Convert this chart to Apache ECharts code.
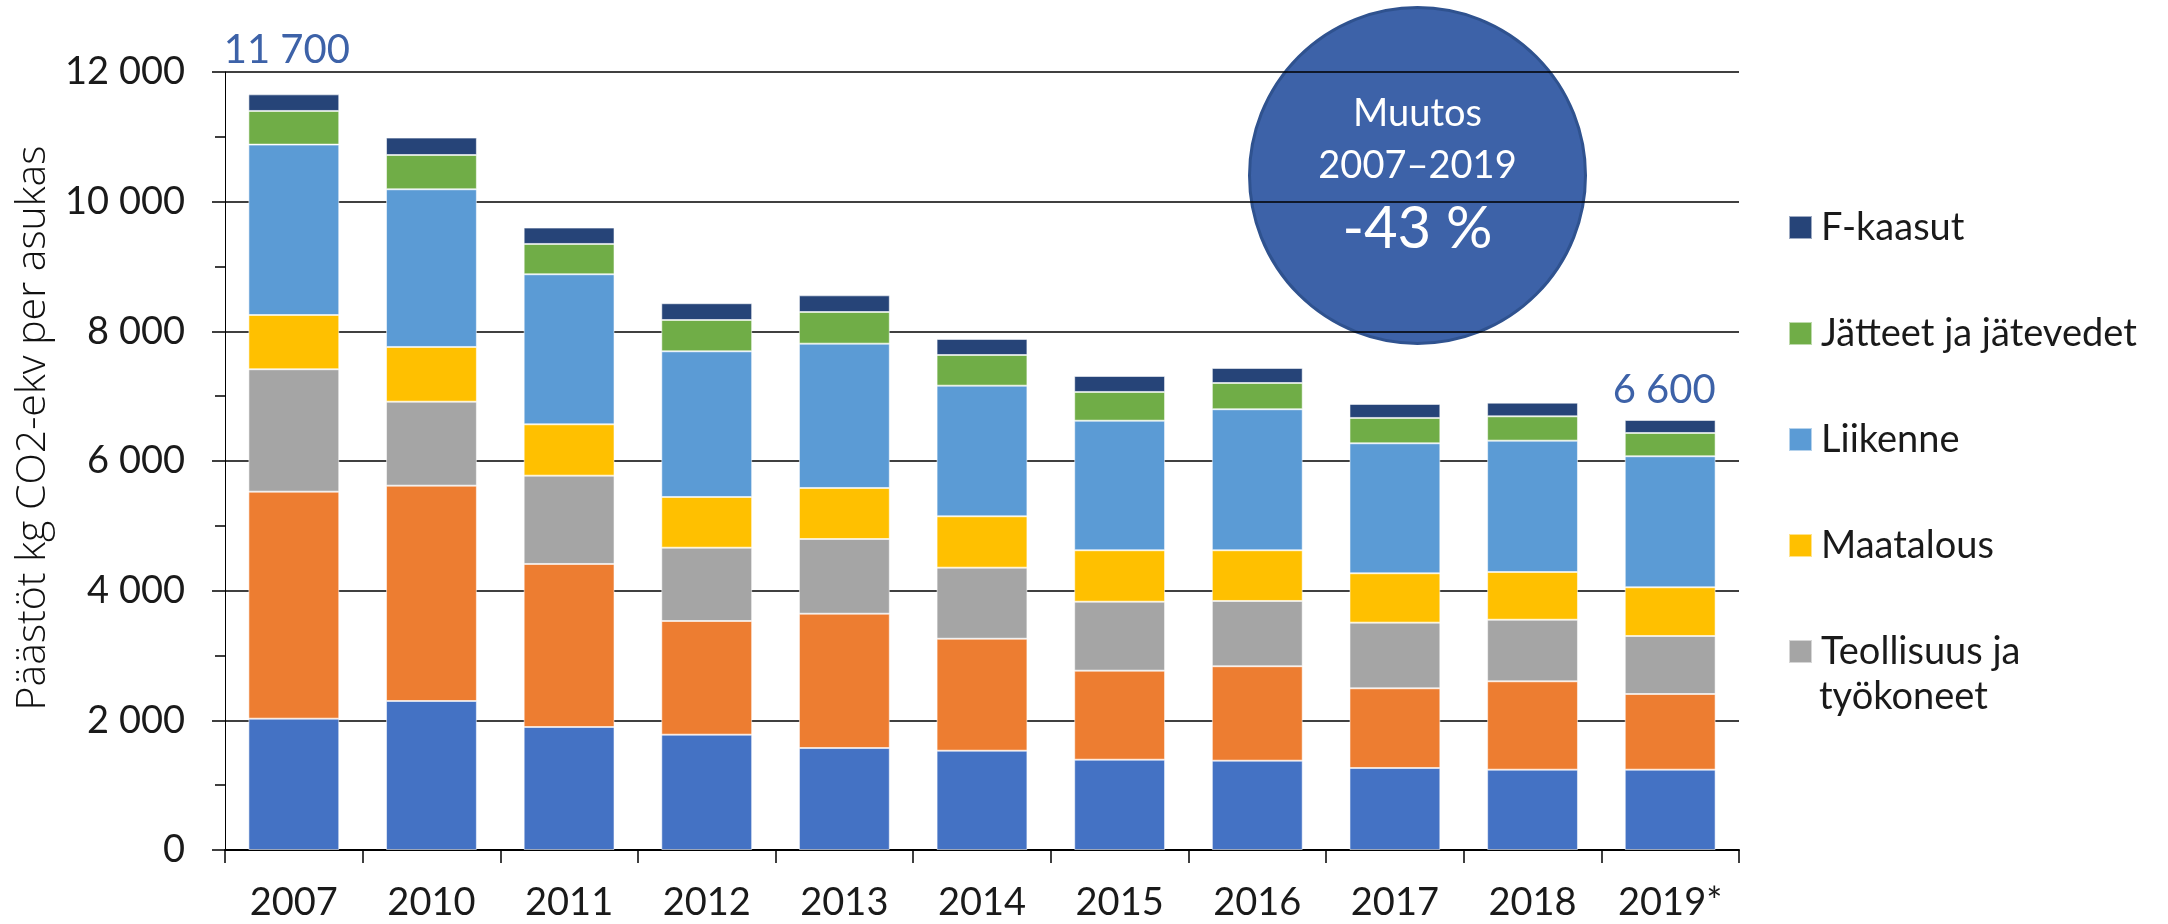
<!DOCTYPE html>
<html>
<head>
<meta charset="utf-8">
<script src="https://cdn.jsdelivr.net/npm/echarts@6/dist/echarts.min.js"></script>
<style>
  html, body { margin: 0; padding: 0; background: #fff; }
  #chart { width: 2168px; height: 924px; }
</style>
</head>
<body>
<div id="chart"></div>
<script>
// vuodet
const years = ['2007', '2010', '2011', '2012', '2013', '2014', '2015', '2016', '2017', '2018', '2019*']

// päästöt kg CO2-ekv per asukas, sektoreittain (alimmasta ylimpään)
const sahko = [2026, 2298, 1897, 1779, 1573, 1532, 1393, 1378, 1265, 1239, 1239]
const lammitys = [3501, 3322, 2515, 1753, 2072, 1727, 1373, 1456, 1229, 1363, 1167]
const teollisuus = [1888, 1295, 1362, 1131, 1152, 1096, 1064, 1007, 1013, 950, 895]
const maatalous = [837, 844, 792, 782, 787, 792, 793, 782, 761, 736, 751]
const liikenne = [2628, 2432, 2314, 2247, 2226, 2015, 1999, 2175, 2005, 2026, 2021]
const jatteet = [519, 529, 468, 483, 488, 473, 443, 405, 391, 375, 359]
const fkaasut = [256, 268, 252, 258, 257, 247, 246, 232, 216, 211, 201]

// kokonaismäärien tekstit pylväiden päällä
const totalLabels = ['11 700', '', '', '', '', '', '', '', '', '', '6 600']

const yTicks = [0, 2000, 4000, 6000, 8000, 10000, 12000]

const legendNames = ['F-kaasut', 'Jätteet ja jätevedet', 'Liikenne', 'Maatalous', 'Teollisuus ja työkoneet']

const font = 'Lato'
const labelBlue = '#3d62a8'

function fmt(v) {
  return String(v).replace(/\B(?=(\d{3})+(?!\d))/g, ' ')
}

function barSeries(name, data, color) {
  return {
    name: name,
    type: 'bar',
    stack: 'total',
    barWidth: '66%',
    data: data,
    itemStyle: { color: color, borderColor: 'rgba(255,255,255,0.55)', borderWidth: 1 }
  }
}

const chart = echarts.init(document.getElementById('chart'))

const topSeries = barSeries('F-kaasut', fkaasut.map((v, i) => {
  if (!totalLabels[i]) return v
  return {
    value: v,
    label: {
      show: true,
      position: 'top',
      distance: i === 0 ? 24 : 10,
      offset: [i === 0 ? -7 : -6, 0],
      formatter: totalLabels[i],
      color: labelBlue,
      fontFamily: font,
      fontSize: 40
    }
  }
}), '#264478')

chart.setOption({
  animation: false,
  grid: { left: 225, right: 429, top: 72, bottom: 74 },
  legend: {
    data: legendNames,
    orient: 'vertical',
    left: 1783,
    top: 196,
    itemWidth: 23,
    itemHeight: 23,
    itemGap: 53,
    icon: 'rect',
    formatter: name => name === 'Teollisuus ja työkoneet' ? 'Teollisuus ja' : name,
    textStyle: { fontFamily: font, fontSize: 38, color: '#1a1a1a', lineHeight: 53, padding: [0, 0, 0, 4] }
  },
  xAxis: {
    type: 'category',
    data: years,
    axisLine: { lineStyle: { color: '#000', width: 2 } },
    axisTick: { show: true, length: 13, lineStyle: { color: '#000', width: 1.5 } },
    axisLabel: { interval: 0, margin: 34, fontFamily: font, fontSize: 38, color: '#1a1a1a' }
  },
  yAxis: {
    type: 'value',
    min: 0,
    max: 12000,
    interval: 2000,
    name: 'Päästöt kg CO2-ekv per asukas',
    nameLocation: 'middle',
    nameGap: 162,
    nameTextStyle: { fontFamily: 'Open Sans', fontWeight: 300, fontSize: 41, color: '#111', padding: [0, 0, 0, 66] },
    axisLine: { show: true, lineStyle: { color: '#000', width: 1 } },
    axisTick: { show: true, length: 13, lineStyle: { color: '#000', width: 1.5 } },
    minorTick: { show: true, splitNumber: 2, length: 10, lineStyle: { color: '#000', width: 1.5 } },
    splitLine: { show: true, lineStyle: { color: '#000', width: 1.5 } },
    axisLabel: {
      margin: 40,
      fontFamily: font,
      fontSize: 38,
      color: '#1a1a1a',
      formatter: v => yTicks.includes(v) ? fmt(v) : ''
    }
  },
  series: [
    barSeries('Sähkö', sahko, '#4472c4'),
    barSeries('Lämmitys', lammitys, '#ed7d31'),
    barSeries('Teollisuus ja työkoneet', teollisuus, '#a5a5a5'),
    barSeries('Maatalous', maatalous, '#ffc000'),
    barSeries('Liikenne', liikenne, '#5b9bd5'),
    barSeries('Jätteet ja jätevedet', jatteet, '#70ad47'),
    topSeries
  ],
  graphic: [
    {
      type: 'text',
      left: 1819,
      top: 700 - 22,
      style: { text: 'työkoneet', fontFamily: font, fontSize: 38, fill: '#1a1a1a' }
    },
    {
      type: 'group',
      left: 1248,
      top: 6,
      children: [
        {
          type: 'circle',
          shape: { cx: 168, cy: 168, r: 168 },
          style: { fill: '#3d62a8', stroke: '#2f528f', lineWidth: 3 }
        },
        {
          type: 'text',
          style: { x: 168, y: 106, text: 'Muutos', align: 'center', verticalAlign: 'middle', fontFamily: font, fontSize: 38, fill: '#fff' }
        },
        {
          type: 'text',
          style: { x: 168, y: 158, text: '2007–2019', align: 'center', verticalAlign: 'middle', fontFamily: font, fontSize: 38, fill: '#fff' }
        },
        {
          type: 'text',
          style: { x: 168, y: 222, text: '-43 %', align: 'center', verticalAlign: 'middle', fontFamily: font, fontSize: 58, fill: '#fff' }
        }
      ]
    }
  ]
})
</script>
</body>
</html>
